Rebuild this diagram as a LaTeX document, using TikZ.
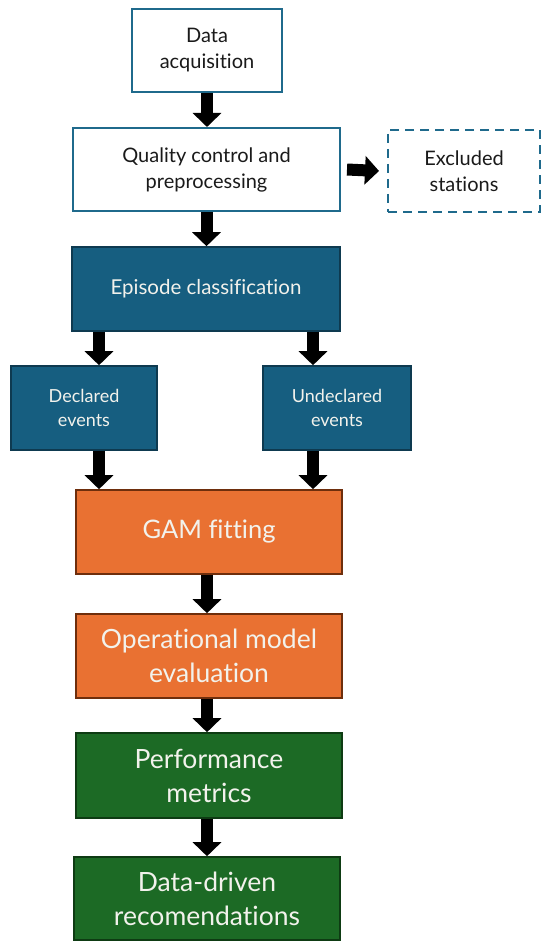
\documentclass[tikz,border=0pt]{standalone}
\usepackage{fontspec}
\setmainfont{Lato}[Ligatures=NoCommon]
\usetikzlibrary{arrows.meta}
\definecolor{bordblue}{HTML}{1F6A8C}
\definecolor{fillblue}{HTML}{165E80}
\definecolor{darkblue}{HTML}{0E3A50}
\definecolor{fillorange}{HTML}{E97132}
\definecolor{darkorange}{HTML}{6E2E0C}
\definecolor{fillgreen}{HTML}{1C6A25}
\definecolor{darkgreen}{HTML}{0E3B13}
\definecolor{lighttext}{HTML}{F2F2EC}
\definecolor{darktext}{HTML}{1A1A1A}
\tikzset{
  box/.style={rectangle, inner sep=0pt, align=center},
  whitebox/.style={box, draw=bordblue, line width=2pt, fill=white, text=darktext,
     font=\fontsize{20}{26}\selectfont},
  dashbox/.style={whitebox, dash pattern=on 9pt off 6pt},
  bluebox/.style={box, draw=darkblue, line width=1.6pt, fill=fillblue, text=lighttext,
     font=\fontsize{20.5}{26}\selectfont},
  smallblue/.style={bluebox, font=\fontsize{18}{24}\selectfont},
  orangebox/.style={box, draw=darkorange, line width=1.6pt, fill=fillorange, text=lighttext,
     font=\fontsize{26.5}{34}\selectfont},
  greenbox/.style={box, draw=darkgreen, line width=1.6pt, fill=fillgreen, text=lighttext,
     font=\fontsize{26.5}{34}\selectfont},
  blockarrow/.style={draw=black, line width=12pt, -{Triangle[length=14pt,width=28pt]}},
}
\begin{document}
\begin{tikzpicture}[x=1pt,y=-1pt]
\useasboundingbox (0,0) rectangle (550,949);
% nodes (pixel coordinates, y downward)
\node[whitebox, minimum width=150pt, minimum height=83pt] (data) at (207,50.5) {Data\\acquisition};
\node[whitebox, minimum width=267pt, minimum height=83pt] (qc) at (206.5,169.5) {Quality control and\\preprocessing};
\node[dashbox, minimum width=152pt, minimum height=82pt] (excl) at (464,171) {Excluded\\stations};
\node[bluebox, minimum width=268pt, minimum height=84pt] (epi) at (206,289) {Episode classification};
\node[smallblue, minimum width=146pt, minimum height=84pt] (decl) at (84,408) {Declared\\events};
\node[smallblue, minimum width=148pt, minimum height=84pt] (undecl) at (337,408) {Undeclared\\events};
\node[orangebox, font=\fontsize{25.5}{34}\selectfont, minimum width=266pt, minimum height=84pt] (gam) at (209,532) {GAM fitting};
\node[orangebox, minimum width=266pt, minimum height=84pt] (oper) at (209,656) {Operational model\\evaluation};
\node[greenbox, minimum width=266pt, minimum height=85pt] (perf) at (209,775.5) {Performance\\metrics};
\node[greenbox, minimum width=266pt, minimum height=83pt] (recs) at (207,898.5) {Data-driven\\recomendations};
% arrows
\draw[blockarrow] (data.south) -- (data.south |- qc.north);
\draw[blockarrow] ([xshift=6pt]qc.east) -- ([xshift=-8pt]excl.west);
\draw[blockarrow] (qc.south) -- (qc.south |- epi.north);
\draw[blockarrow] ([xshift=-107pt]epi.south) -- ([xshift=15pt]decl.north);
\draw[blockarrow] ([xshift=107pt]epi.south) -- ([xshift=-24pt]undecl.north);
\draw[blockarrow] ([xshift=15pt]decl.south) -- ([xshift=-110pt]gam.north);
\draw[blockarrow] ([xshift=-24pt]undecl.south) -- ([xshift=104pt]gam.north);
\draw[blockarrow] ([xshift=-2pt]gam.south) -- ([xshift=-2pt]oper.north);
\draw[blockarrow] ([xshift=-2pt]oper.south) -- ([xshift=-2pt]perf.north);
\draw[blockarrow] ([xshift=-2pt]perf.south) -- (recs.north);
\end{tikzpicture}
\end{document}
